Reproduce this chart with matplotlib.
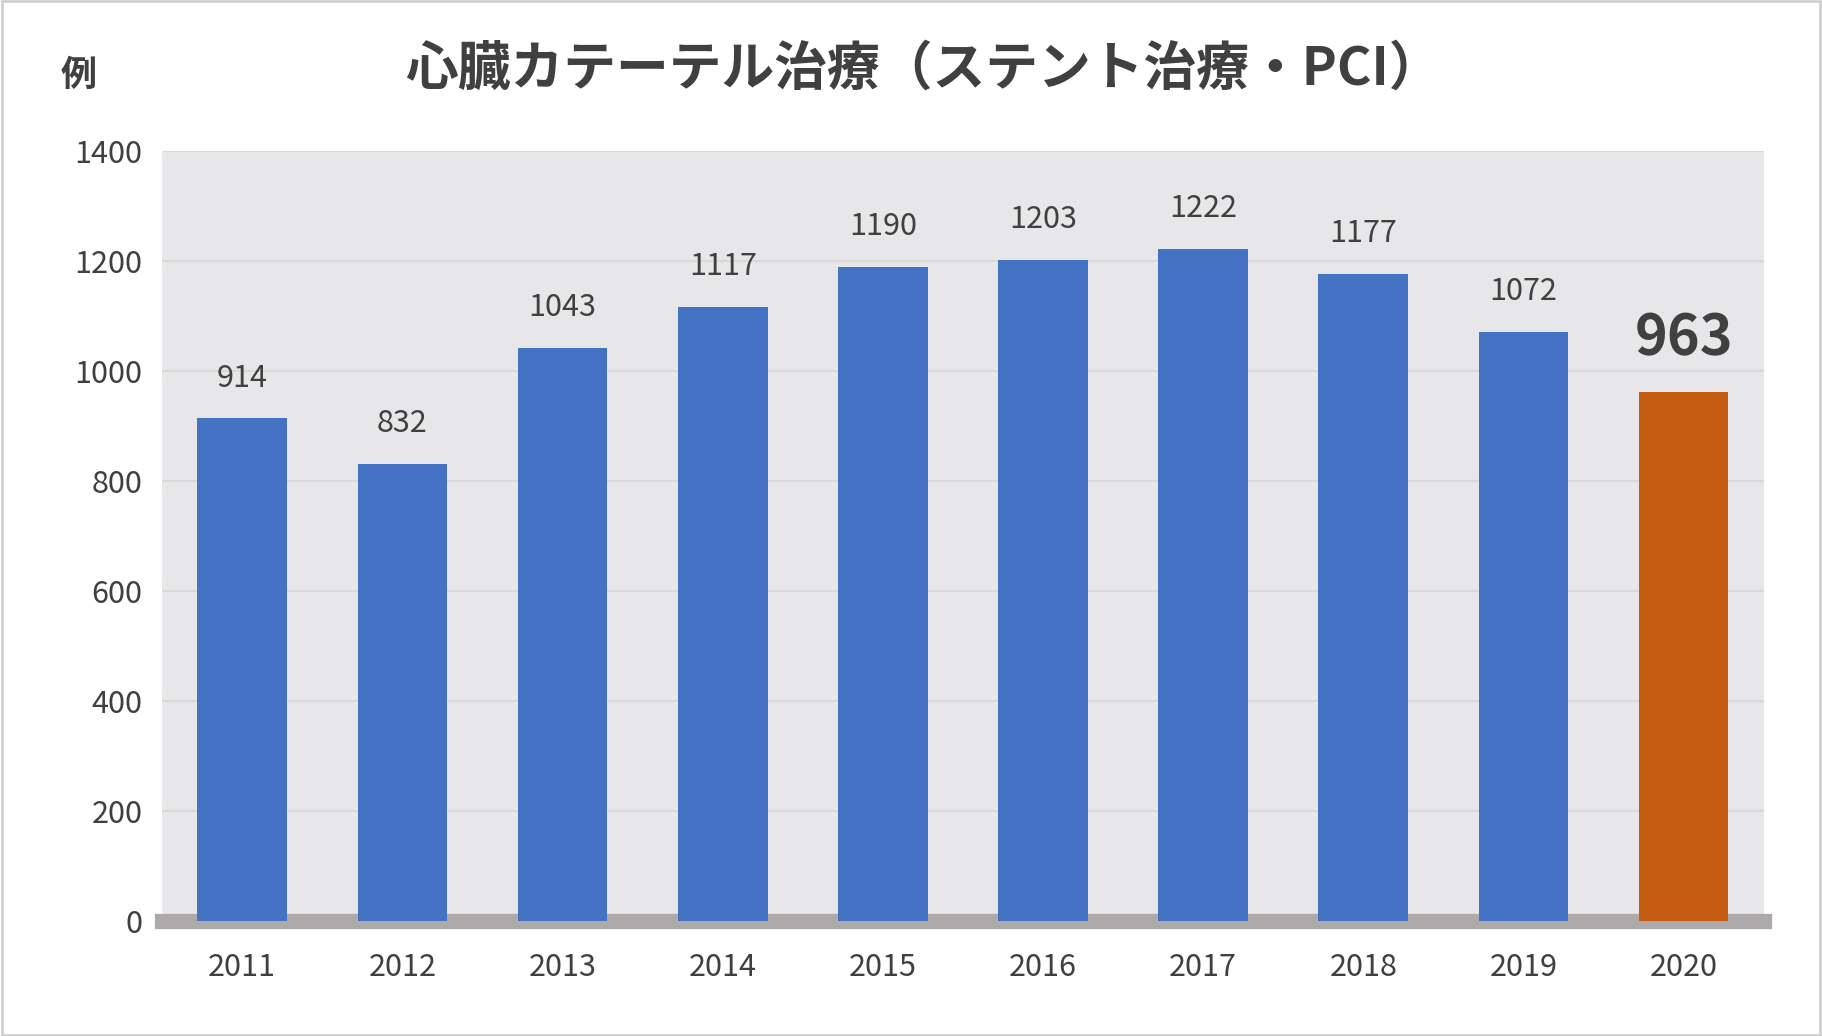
import matplotlib.pyplot as plt
from matplotlib.patches import Rectangle

plt.rcParams['font.family'] = 'Noto Sans CJK JP'

years = ['2011', '2012', '2013', '2014', '2015', '2016', '2017', '2018', '2019', '2020']
cases = [914, 832, 1043, 1117, 1190, 1203, 1222, 1177, 1072, 963]
yticks = [0, 200, 400, 600, 800, 1000, 1200, 1400]

blue = '#4472c4'
orange = '#c55a11'
colors = [blue] * 9 + [orange]

fig = plt.figure(figsize=(18.22, 10.36), dpi=100)
fig.patches.append(Rectangle((0.001, 0.001), 0.998, 0.998, transform=fig.transFigure,
                             fill=False, edgecolor='#d0d0d0', linewidth=2))
ax = fig.add_axes([0.089, 0.111, 0.879, 0.743])
ax.set_facecolor('#e7e6e8')

x = range(len(years))
ax.bar(x, cases, width=0.56, color=colors, zorder=3)
for i, v in enumerate(cases):
    if i == len(cases) - 1:
        ax.text(i, v + 45, str(v), ha='center', va='bottom', fontsize=40,
                fontweight='bold', color='#404040')
    else:
        ax.text(i, v + 45, str(v), ha='center', va='bottom', fontsize=22, color='#404040')

ax.set_xlim(-0.5, len(years) - 0.5)
ax.set_ylim(0, 1400)
ax.set_yticks(yticks)
ax.set_xticks(list(x))
ax.set_xticklabels(years)
ax.grid(axis='y', color='#d9d9d9', linewidth=1.5, zorder=0)
ax.tick_params(length=0, labelsize=22, labelcolor='#404040', pad=14)
ax.tick_params(axis='x', pad=22)
for s in ['top', 'right', 'left']:
    ax.spines[s].set_visible(False)
ax.spines['bottom'].set_color('#aeaaaa')
ax.spines['bottom'].set_linewidth(11)

fig.text(0.507, 0.933, '心臓カテーテル治療（ステント治療・PCI）', ha='center', va='center',
         fontsize=38, fontweight='bold', color='#404040')
fig.text(0.043, 0.927, '例', ha='center', va='center', fontsize=26,
         fontweight='bold', color='#404040')

fig.savefig('out.png', dpi=100)
